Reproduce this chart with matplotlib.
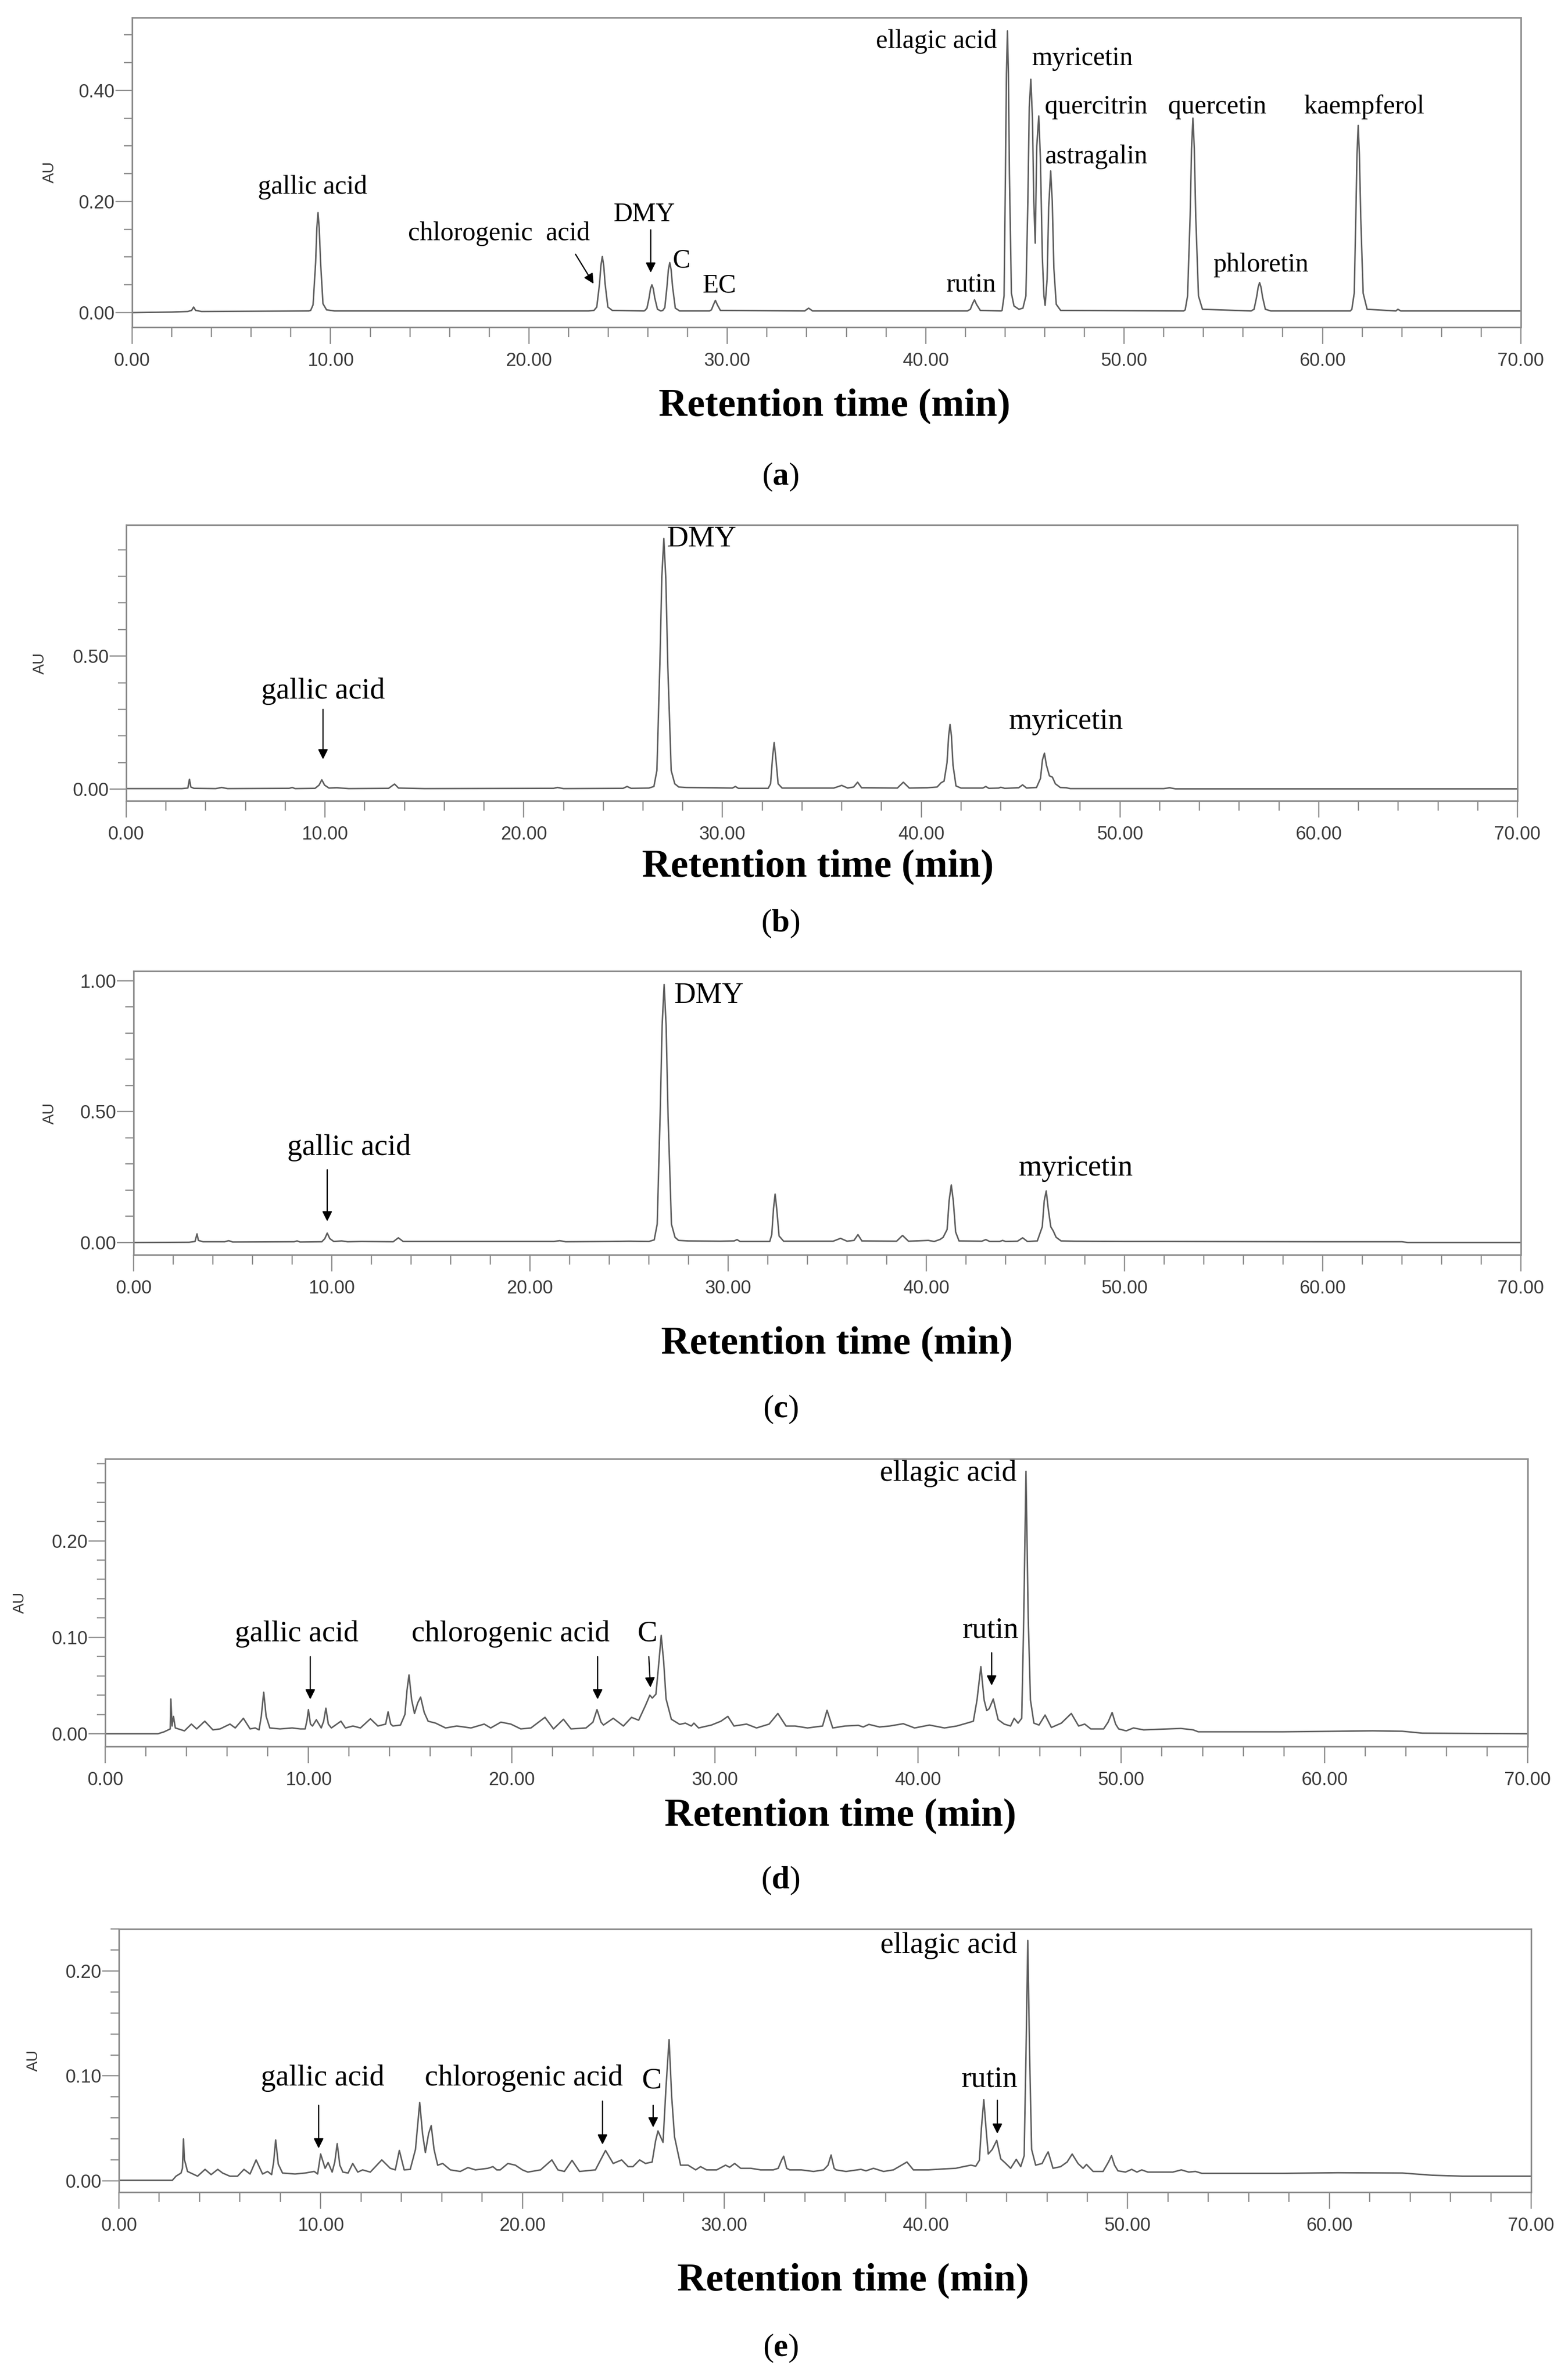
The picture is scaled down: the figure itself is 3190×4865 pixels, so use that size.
import numpy as np
import matplotlib.pyplot as plt
from matplotlib.ticker import MultipleLocator, FormatStrFormatter

plt.rcParams.update({'font.family': 'Liberation Serif',
                     'mathtext.fontset': 'custom',
                     'mathtext.rm': 'Liberation Serif',
                     'mathtext.bf': 'Liberation Serif:bold'})

# ---------------- data ----------------
# (a) standard mixture
a_time = [0.0, 2.0, 2.8, 3.0, 3.1, 3.2, 3.5, 8.9,
          9.0, 9.12, 9.25, 9.31, 9.37, 9.43, 9.5, 9.62, 9.8, 10.2, 23.0,
          23.28, 23.42, 23.56, 23.63, 23.70, 23.77, 23.84, 23.98, 24.2, 25.8,
          25.85, 25.95, 26.06, 26.13, 26.2, 26.27, 26.34, 26.48, 26.65,
          26.75, 26.85, 26.96, 27.03, 27.1, 27.17, 27.24, 27.38, 27.6,
          29.1, 29.2, 29.3, 29.4, 29.5, 29.65, 33.9, 34.1, 34.3,
          42.1, 42.25, 42.36, 42.46, 42.56, 42.75, 43.8,
          43.85, 43.95, 44.02, 44.07, 44.12, 44.17, 44.22, 44.32, 44.45, 44.7, 44.9,
          45.05, 45.15, 45.22, 45.3, 45.38, 45.45, 45.52,
          45.6, 45.7, 45.78, 45.88, 45.96, 46.02,
          46.12, 46.2, 46.3, 46.38, 46.46, 46.58, 46.8, 53.0,
          53.08, 53.2, 53.33, 53.40, 53.47, 53.54, 53.61, 53.75, 53.95, 56.4,
          56.55, 56.68, 56.76, 56.83, 56.9, 56.98, 57.12, 57.4, 61.4,
          61.48, 61.6, 61.68, 61.74, 61.8, 61.86, 61.93, 62.05, 62.25,
          63.7, 63.8, 63.95, 70.0]
a_au = [0.0, 0.001, 0.002, 0.004, 0.010, 0.004, 0.002, 0.003,
        0.004, 0.014, 0.09, 0.152, 0.180, 0.152, 0.09, 0.016, 0.005, 0.003, 0.003,
        0.004, 0.010, 0.052, 0.085, 0.101, 0.085, 0.052, 0.010, 0.004, 0.003,
        0.004, 0.008, 0.027, 0.043, 0.050, 0.043, 0.027, 0.006, 0.003,
        0.004, 0.009, 0.047, 0.077, 0.090, 0.077, 0.047, 0.008, 0.003,
        0.003, 0.005, 0.014, 0.022, 0.014, 0.004, 0.003, 0.008, 0.003,
        0.003, 0.006, 0.016, 0.023, 0.015, 0.004, 0.003,
        0.004, 0.03, 0.25, 0.43, 0.507, 0.43, 0.25, 0.035, 0.012, 0.006, 0.008,
        0.03, 0.2, 0.37, 0.42, 0.35, 0.2, 0.125,
        0.30, 0.354, 0.28, 0.1, 0.03, 0.013,
        0.06, 0.19, 0.255, 0.2, 0.08, 0.015, 0.004, 0.003,
        0.005, 0.03, 0.175, 0.295, 0.35, 0.295, 0.175, 0.03, 0.006, 0.003,
        0.006, 0.028, 0.046, 0.054, 0.046, 0.028, 0.006, 0.003, 0.003,
        0.006, 0.035, 0.17, 0.285, 0.337, 0.285, 0.17, 0.035, 0.006,
        0.003, 0.006, 0.003, 0.003]

# (b) sample 1
b_time = [0.0, 2.8, 3.1, 3.18, 3.25, 3.4, 4.5, 4.8, 5.1, 8.2, 8.35, 8.5,
          9.5, 9.7, 9.84, 9.98, 10.2, 10.6, 11.2, 13.2, 13.5, 13.7, 15.0,
          21.5, 21.7, 22.0, 25.0, 25.2, 25.4, 26.3,
          26.55, 26.7, 26.85, 26.95, 27.05, 27.15, 27.25, 27.42, 27.6, 27.8, 28.2,
          30.5, 30.65, 30.8, 32.3, 32.42, 32.52, 32.6, 32.68, 32.8, 33.0,
          35.6, 36.0, 36.3, 36.6, 36.8, 37.0, 38.8, 39.1, 39.4, 40.3, 40.8, 41.0, 41.15,
          41.3, 41.38, 41.45, 41.52, 41.6, 41.75, 42.0, 43.1, 43.25, 43.4,
          43.9, 44.0, 44.2, 44.9, 45.1, 45.3, 45.8,
          46.0, 46.1, 46.2, 46.3, 46.45, 46.6, 46.75, 47.0, 47.3, 47.5,
          52.2, 52.5, 52.8, 70.0]
b_au = [0.002, 0.002, 0.004, 0.037, 0.008, 0.003, 0.002, 0.006, 0.002, 0.003, 0.006, 0.002,
        0.003, 0.015, 0.035, 0.015, 0.004, 0.005, 0.002, 0.003, 0.019, 0.004, 0.002,
        0.003, 0.006, 0.002, 0.003, 0.010, 0.003, 0.004,
        0.01, 0.07, 0.47, 0.80, 0.942, 0.79, 0.46, 0.07, 0.02, 0.008, 0.006,
        0.004, 0.010, 0.003, 0.003, 0.02, 0.12, 0.175, 0.12, 0.02, 0.004,
        0.004, 0.014, 0.004, 0.008, 0.026, 0.005, 0.004, 0.026, 0.004, 0.005, 0.008, 0.024, 0.03,
        0.10, 0.2, 0.243, 0.2, 0.09, 0.012, 0.004, 0.004, 0.010, 0.003,
        0.004, 0.007, 0.003, 0.005, 0.016, 0.004, 0.006,
        0.04, 0.11, 0.135, 0.09, 0.05, 0.045, 0.02, 0.006, 0.005, 0.002,
        0.002, 0.005, 0.001, 0.001]

# (c) sample 2
c_time = [0.0, 2.8, 3.1, 3.2, 3.27, 3.5, 4.6, 4.8, 5.0, 8.1, 8.25, 8.4,
          9.5, 9.65, 9.77, 9.9, 10.1, 10.5, 10.8, 11.5, 13.1, 13.36, 13.6, 15.0,
          21.2, 21.5, 21.8, 24.0, 25.0, 26.0,
          26.27, 26.42, 26.57, 26.67, 26.77, 26.87, 26.97, 27.14, 27.32, 27.5, 28.0,
          29.6, 30.3, 30.45, 30.6, 32.1, 32.2, 32.29, 32.37, 32.45, 32.57, 32.8,
          35.3, 35.67, 36.0, 36.35, 36.55, 36.75, 38.5, 38.8, 39.1, 40.1, 40.4, 40.7, 40.85,
          41.05, 41.15, 41.26, 41.36, 41.48, 41.65, 42.8, 43.0, 43.2, 43.7, 43.85, 44.0,
          44.6, 44.86, 45.1, 45.6,
          45.85, 45.95, 46.05, 46.15, 46.28, 46.4, 46.55, 46.8, 47.5, 50.0, 52.0, 60.0,
          64.0, 64.3, 70.0]
c_au = [0.0, 0.001, 0.004, 0.033, 0.008, 0.003, 0.003, 0.007, 0.002, 0.003, 0.006, 0.002,
        0.003, 0.015, 0.036, 0.015, 0.004, 0.006, 0.003, 0.004, 0.003, 0.018, 0.004, 0.004,
        0.004, 0.007, 0.003, 0.004, 0.005, 0.004,
        0.01, 0.07, 0.49, 0.83, 0.986, 0.83, 0.48, 0.07, 0.02, 0.008, 0.006,
        0.005, 0.006, 0.011, 0.004, 0.004, 0.03, 0.13, 0.185, 0.13, 0.025, 0.005,
        0.005, 0.016, 0.005, 0.008, 0.030, 0.006, 0.005, 0.027, 0.005, 0.008, 0.004, 0.012, 0.02,
        0.05, 0.16, 0.22, 0.16, 0.04, 0.006, 0.005, 0.011, 0.004, 0.004, 0.008, 0.004,
        0.005, 0.018, 0.004, 0.006,
        0.06, 0.16, 0.197, 0.13, 0.06, 0.045, 0.02, 0.006, 0.005, 0.004, 0.004, 0.003,
        0.003, 0.0, 0.0]

# (d) sample 3
d_time = [0.0, 2.6, 2.9, 3.1, 3.2, 3.23, 3.29, 3.36, 3.45, 3.9, 4.24, 4.5, 4.9, 5.3,
          5.65, 6.14, 6.4, 6.8, 7.13, 7.38, 7.57, 7.68, 7.8, 7.92, 8.1, 8.6, 9.2, 9.6,
          9.84, 9.93, 10.0, 10.1, 10.2, 10.39, 10.63, 10.75, 10.86, 10.98, 11.13, 11.6,
          11.82, 12.19, 12.56, 13.05, 13.42, 13.8, 13.92, 14.05, 14.16, 14.53, 14.75,
          14.85, 14.95, 15.08, 15.22, 15.38, 15.52, 15.7, 15.89, 16.26, 16.75, 17.3,
          18.0, 18.65, 18.97, 19.47, 19.96, 20.45, 20.95, 21.64, 22.06, 22.55, 22.92,
          23.66, 24.0, 24.2, 24.4, 24.52, 25.0, 25.5, 25.9, 26.25, 26.6, 26.8, 26.92,
          27.1, 27.25, 27.36, 27.48, 27.6, 27.86, 28.27, 28.55, 28.84, 28.97, 29.2,
          29.83, 30.3, 30.64, 30.94, 31.56, 32.05, 32.67, 33.1, 33.5, 33.95, 34.56,
          35.3, 35.52, 35.8, 36.4, 37.06, 37.3, 37.58, 38.1, 38.6, 39.27, 39.83, 40.56,
          41.3, 41.9, 42.4, 42.72, 42.9, 43.09, 43.25, 43.38, 43.5, 43.7, 43.94, 44.24,
          44.55, 44.73, 44.92, 45.1, 45.2, 45.31, 45.42, 45.53, 45.7, 45.95, 46.25,
          46.56, 47.05, 47.54, 47.9, 48.2, 48.5, 49.13, 49.35, 49.55, 49.72, 49.87,
          50.24, 50.6, 51.1, 52.93, 53.54, 53.79, 57.95, 62.36, 63.83, 64.81, 70.0]
d_au = [0.0, 0.0, 0.002, 0.004, 0.005, 0.036, 0.008, 0.018, 0.006, 0.003, 0.010, 0.005, 0.013, 0.004,
        0.005, 0.010, 0.006, 0.016, 0.005, 0.006, 0.004, 0.018, 0.043, 0.018, 0.006, 0.005, 0.006, 0.005,
        0.005, 0.014, 0.025, 0.010, 0.008, 0.0145, 0.006, 0.013, 0.0265, 0.010, 0.006, 0.013,
        0.006, 0.008, 0.006, 0.0155, 0.008, 0.010, 0.0227, 0.010, 0.008, 0.009, 0.020,
        0.045, 0.061, 0.035, 0.021, 0.032, 0.038, 0.022, 0.013, 0.011, 0.006, 0.008,
        0.006, 0.010, 0.006, 0.012, 0.010, 0.005, 0.006, 0.017, 0.005, 0.015, 0.005,
        0.006, 0.012, 0.025, 0.012, 0.009, 0.016, 0.008, 0.017, 0.014, 0.030, 0.040, 0.037,
        0.041, 0.075, 0.102, 0.075, 0.036, 0.015, 0.0097, 0.011, 0.008, 0.011, 0.006,
        0.009, 0.013, 0.018, 0.008, 0.010, 0.006, 0.010, 0.021, 0.008, 0.008, 0.006,
        0.008, 0.0243, 0.006, 0.008, 0.0087, 0.007, 0.0097, 0.007, 0.008, 0.0104, 0.006, 0.009,
        0.006, 0.008, 0.011, 0.013, 0.035, 0.0696, 0.035, 0.024, 0.026, 0.036, 0.0146, 0.010,
        0.008, 0.016, 0.011, 0.016, 0.12, 0.272, 0.12, 0.035, 0.011, 0.009, 0.0194,
        0.0065, 0.011, 0.021, 0.008, 0.010, 0.005, 0.005, 0.012, 0.022, 0.010, 0.005,
        0.003, 0.006, 0.004, 0.0055, 0.004, 0.002, 0.002, 0.003, 0.0026, 0.0006, 0.0]

# (e) sample 4
e_time = [0.0, 2.65, 2.83, 3.08, 3.15, 3.2, 3.25, 3.3, 3.4, 3.9, 4.27, 4.57, 4.9, 5.14,
          5.5, 5.88, 6.2, 6.5, 6.8, 7.12, 7.37, 7.57, 7.67, 7.77, 7.9, 8.11, 8.73, 9.23,
          9.68, 9.85, 10.0, 10.22, 10.37, 10.57, 10.7, 10.82, 10.95, 11.1, 11.36, 11.59,
          11.84, 12.08, 12.46, 13.03, 13.45, 13.7, 13.9, 14.14, 14.44, 14.7, 14.91,
          15.05, 15.19, 15.35, 15.48, 15.62, 15.8, 16.05, 16.43, 16.92, 17.3, 17.67,
          18.29, 18.54, 18.73, 18.9, 19.28, 19.65, 20.0, 20.27, 20.9, 21.46, 21.76,
          22.08, 22.46, 22.83, 23.62, 24.12, 24.5, 24.92, 25.24, 25.48, 25.81, 26.1,
          26.43, 26.6, 26.72, 26.97, 27.12, 27.27, 27.4, 27.54, 27.84, 28.21, 28.59,
          28.83, 29.13, 29.63, 30.07, 30.27, 30.52, 30.82, 31.32, 31.81, 32.43, 32.68,
          32.85, 32.95, 33.1, 33.25, 33.82, 34.43, 34.93, 35.15, 35.3, 35.45, 35.55,
          36.04, 36.78, 37.03, 37.4, 37.9, 38.39, 39.06, 39.38, 40.12, 40.87, 41.48,
          41.86, 42.23, 42.47, 42.65, 42.75, 42.87, 42.98, 43.09, 43.29, 43.51, 43.71,
          43.96, 44.2, 44.48, 44.7, 44.87, 44.96, 45.05, 45.14, 45.24, 45.44, 45.76,
          45.95, 46.06, 46.3, 46.68, 47.0, 47.25, 47.54, 47.79, 47.96, 48.29, 48.78,
          49.05, 49.2, 49.35, 49.52, 49.89, 50.2, 50.46, 50.7, 51.0, 52.24, 52.66,
          53.03, 53.36, 53.68, 57.69, 60.41, 63.62, 65.1, 66.6, 70.0]
e_au = [0.0006, 0.0006, 0.0045, 0.0075, 0.012, 0.040, 0.02, 0.0166, 0.009, 0.0045, 0.011, 0.006, 0.011, 0.0075,
        0.0045, 0.0045, 0.011, 0.0066, 0.020, 0.0066, 0.009, 0.006, 0.018, 0.039, 0.016, 0.0075, 0.0066, 0.0075,
        0.009, 0.0066, 0.0256, 0.012, 0.0175, 0.0084, 0.018, 0.0355, 0.015, 0.0084, 0.0075, 0.0166,
        0.0084, 0.0105, 0.0084, 0.020, 0.012, 0.0105, 0.029, 0.0105, 0.011, 0.030, 0.0747,
        0.045, 0.027, 0.045, 0.0527, 0.030, 0.015, 0.0166, 0.0105, 0.009, 0.0127, 0.0105,
        0.012, 0.0136, 0.0105, 0.0105, 0.0166, 0.015, 0.0105, 0.0084, 0.0105, 0.020, 0.0105,
        0.009, 0.0196, 0.009, 0.0105, 0.029, 0.0166, 0.020, 0.0136, 0.0136, 0.020, 0.0166,
        0.018, 0.038, 0.0476, 0.0367, 0.09, 0.1346, 0.08, 0.042, 0.015, 0.015, 0.0105,
        0.0136, 0.0105, 0.0105, 0.015, 0.013, 0.0166, 0.012, 0.012, 0.0105, 0.0105, 0.012,
        0.020, 0.0235, 0.012, 0.0105, 0.0105, 0.009, 0.0105, 0.015, 0.0247, 0.012, 0.0105,
        0.009, 0.011, 0.0096, 0.012, 0.009, 0.0105, 0.018, 0.0105, 0.0105, 0.0114, 0.012,
        0.0136, 0.015, 0.014, 0.0196, 0.05, 0.0774, 0.05, 0.0256, 0.030, 0.0386, 0.021,
        0.0166, 0.012, 0.0205, 0.0136, 0.024, 0.12, 0.229, 0.12, 0.030, 0.015, 0.0166,
        0.024, 0.0277, 0.012, 0.0136, 0.018, 0.0256, 0.0166, 0.012, 0.0157, 0.009, 0.009,
        0.018, 0.024, 0.015, 0.0096, 0.0084, 0.011, 0.0084, 0.0105, 0.0084, 0.0084, 0.0105,
        0.0084, 0.009, 0.0072, 0.0072, 0.0078, 0.0075, 0.0054, 0.0045, 0.0045]

# peak labels: text, x (min), y (AU)
a_labels = ['gallic acid', 'chlorogenic  acid', 'DMY', 'C', 'EC', 'rutin', 'ellagic acid',
            'myricetin', 'quercitrin', 'astragalin', 'quercetin', 'phloretin', 'kaempferol']
a_label_x = [9.1, 18.5, 25.8, 27.7, 29.6, 42.3, 43.6, 47.9, 48.6, 48.6, 54.7, 56.9, 62.1]
a_label_y = [0.226, 0.142, 0.176, 0.093, 0.048, 0.050, 0.488, 0.457, 0.370, 0.280, 0.370, 0.086, 0.370]
a_arrows = [((22.35, 0.105), (23.26, 0.052)), ((26.14, 0.149), (26.14, 0.072))]

b_labels = ['gallic acid', 'DMY', 'myricetin']
b_label_x = [9.9, 27.2, 47.3]
b_label_y = [0.367, 0.939, 0.253]
b_arrows = [((9.9, 0.30), (9.9, 0.112))]

c_labels = ['gallic acid', 'DMY', 'myricetin']
c_label_x = [10.86, 27.27, 47.55]
c_label_y = [0.362, 0.944, 0.284]
c_arrows = [((9.77, 0.278), (9.77, 0.081))]

d_labels = ['gallic acid', 'chlorogenic acid', 'C', 'ellagic acid', 'rutin']
d_label_x = [9.43, 19.96, 26.67, 44.85, 43.58]
d_label_y = [0.1036, 0.1036, 0.1036, 0.270, 0.107]
d_arrows = [((10.09, 0.080), (10.09, 0.0356)), ((24.23, 0.080), (24.23, 0.0356)),
            ((26.75, 0.080), (26.83, 0.048)), ((43.62, 0.084), (43.62, 0.050))]

e_labels = ['gallic acid', 'chlorogenic acid', 'C', 'ellagic acid', 'rutin']
e_label_x = [10.1, 20.07, 26.4, 44.53, 43.17]
e_label_y = [0.098, 0.098, 0.095, 0.224, 0.0964]
e_arrows = [((9.9, 0.072), (9.9, 0.031)), ((23.97, 0.076), (23.97, 0.0346)),
            ((26.48, 0.072), (26.48, 0.051)), ((43.54, 0.0768), (43.54, 0.045))]

x_major = [0, 10, 20, 30, 40, 50, 60, 70]
a_yticks = [0.0, 0.2, 0.4]
b_yticks = [0.0, 0.5]
c_yticks = [0.0, 0.5, 1.0]
d_yticks = [0.0, 0.1, 0.2]
e_yticks = [0.0, 0.1, 0.2]
captions = ['a', 'b', 'c', 'd', 'e']

# ---------------- layout (pixels) ----------------
W, H = 3190, 4865
DPI = 100
PX = 72.0 / DPI

layout = [
    # axes box (left, top, right, bottom), ylim, minor step, label font px, AU pos, xlabel pos, caption y
    dict(box=(270, 36, 3108, 669), ylim=(-0.0264, 0.531), minor=0.05, fs=54,
         au=(102, 352), xl=(1705, 830), cap=975),
    dict(box=(258, 1073, 3101, 1637), ylim=(-0.044, 0.993), minor=0.1, fs=61,
         au=(82, 1356), xl=(1671, 1772), cap=1888),
    dict(box=(273, 1985, 3108, 2565), ylim=(-0.047, 1.037), minor=0.1, fs=61,
         au=(102, 2276), xl=(1710, 2747), cap=2881),
    dict(box=(215, 2982, 3122, 3570), ylim=(-0.0132, 0.285), minor=0.02, fs=61,
         au=(41, 3276), xl=(1717, 3712), cap=3844),
    dict(box=(243, 3943, 3129, 4481), ylim=(-0.0107, 0.240), minor=0.02, fs=61,
         au=(69, 4212), xl=(1743, 4662), cap=4800),
]

series = [
    (a_time, a_au, a_labels, a_label_x, a_label_y, a_arrows, a_yticks),
    (b_time, b_au, b_labels, b_label_x, b_label_y, b_arrows, b_yticks),
    (c_time, c_au, c_labels, c_label_x, c_label_y, c_arrows, c_yticks),
    (d_time, d_au, d_labels, d_label_x, d_label_y, d_arrows, d_yticks),
    (e_time, e_au, e_labels, e_label_x, e_label_y, e_arrows, e_yticks),
]

frame_col = '#8a8a8a'
trace_col = '#5e5e5e'
tick_txt = '#3a3a3a'

fig = plt.figure(figsize=(W / DPI, H / DPI), dpi=DPI)

for k, (lay, (t, y, labs, lx, ly, arrows, yt)) in enumerate(zip(layout, series)):
    l, tp, r, b = lay['box']
    ax = fig.add_axes([l / W, 1 - b / H, (r - l) / W, (b - tp) / H])
    ax.plot(t, y, color=trace_col, lw=3 * PX)
    ax.set_xlim(0, 70)
    ax.set_ylim(*lay['ylim'])

    for s in ax.spines.values():
        s.set_color(frame_col)
        s.set_linewidth(3.2 * PX)

    ax.set_xticks(x_major)
    ax.xaxis.set_minor_locator(MultipleLocator(2))
    ax.xaxis.set_major_formatter(FormatStrFormatter('%.2f'))
    ax.set_yticks(yt)
    ax.yaxis.set_minor_locator(MultipleLocator(lay['minor']))
    ax.yaxis.set_major_formatter(FormatStrFormatter('%.2f'))

    ax.tick_params(axis='x', which='major', length=34 * PX, width=2.5 * PX, color=frame_col,
                   pad=17 * PX, labelsize=38 * PX, labelcolor=tick_txt)
    ax.tick_params(axis='x', which='minor', length=20 * PX, width=2.5 * PX, color=frame_col)
    ax.tick_params(axis='y', which='major', length=34 * PX, width=2.5 * PX, color=frame_col,
                   pad=1, labelsize=38 * PX, labelcolor=tick_txt)
    ax.tick_params(axis='y', which='minor', length=17 * PX, width=2.5 * PX, color=frame_col)
    for lab in ax.get_xticklabels() + ax.get_yticklabels():
        lab.set_family('Liberation Sans')

    for txt, xx, yy in zip(labs, lx, ly):
        ha = 'center'
        if txt == 'ellagic acid':
            ha = 'right'
        elif txt == 'DMY' and k in (1, 2):
            ha = 'left'
        ax.text(xx, yy, txt, ha=ha, va='center', fontsize=lay['fs'] * PX,
                family='Liberation Serif', color='black')

    for tail, tip in arrows:
        ax.annotate('', xy=tip, xytext=tail,
                    arrowprops=dict(arrowstyle='-|>,head_length=0.6,head_width=0.3',
                                    color='black', lw=2.5 * PX, mutation_scale=28 * PX * 1.0,
                                    shrinkA=0, shrinkB=0))

    fig.text(lay['au'][0] / W, 1 - lay['au'][1] / H, 'AU', rotation=90, ha='center',
             va='center', fontsize=32 * PX, family='Liberation Sans', color=tick_txt)
    fig.text(lay['xl'][0] / W, 1 - lay['xl'][1] / H, 'Retention time (min)', ha='center',
             va='center', fontsize=81 * PX, fontweight='bold', family='Liberation Serif')
    fig.text(1595 / W, 1 - lay['cap'] / H, r'($\mathbf{%s}$)' % captions[k], ha='center',
             va='center', fontsize=66 * PX, family='Liberation Serif')

fig.savefig('out.png', dpi=DPI, facecolor='white')
